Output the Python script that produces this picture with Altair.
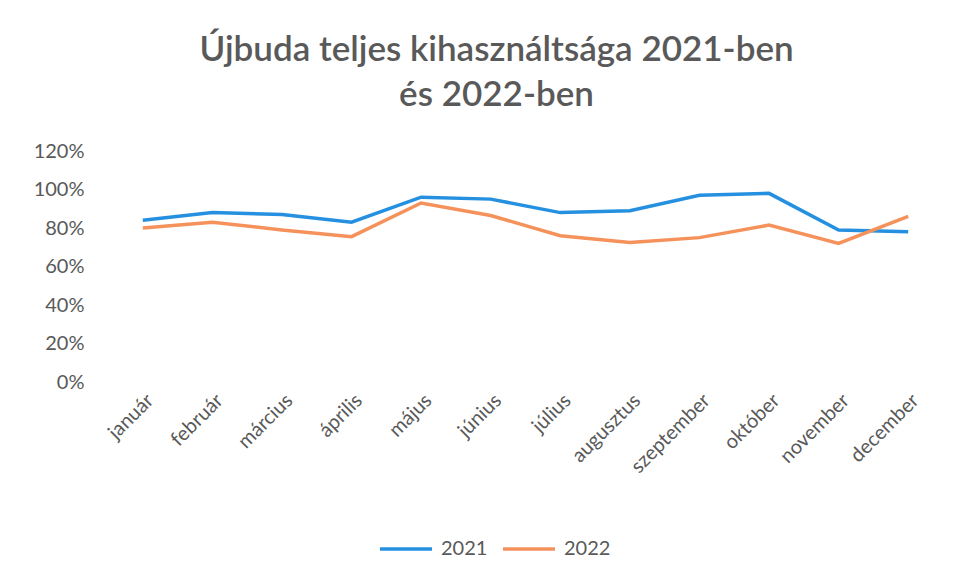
import altair as alt
import pandas as pd

months = ["január", "február", "március", "április", "május", "június",
          "július", "augusztus", "szeptember", "október", "november", "december"]
v2021 = [0.84, 0.88, 0.87, 0.83, 0.96, 0.95, 0.88, 0.89, 0.97, 0.98, 0.79, 0.78]
v2022 = [0.80, 0.83, 0.79, 0.755, 0.93, 0.865, 0.76, 0.725, 0.75, 0.815, 0.72, 0.86]
series = ["2021", "2022"]
colors = ["#2690E0", "#F5925C"]
y_ticks = [0, 0.2, 0.4, 0.6, 0.8, 1.0, 1.2]

rows = []
for m, a, b in zip(months, v2021, v2022):
    rows.append({"hónap": m, "év": series[0], "érték": a})
    rows.append({"hónap": m, "év": series[1], "érték": b})
df = pd.DataFrame(rows)

FONT = "Lato"
GREY = "#595959"

chart = alt.Chart(df).mark_line(strokeWidth=3.5).encode(
    x=alt.X("hónap:N", sort=months, title=None,
            scale=alt.Scale(paddingInner=0, paddingOuter=0),
            axis=alt.Axis(labelAngle=-45, labelAlign="right", labelBaseline="top",
                          labelFontSize=20, labelColor=GREY, labelFont=FONT,
                          ticks=False, domain=False, labelPadding=8)),
    y=alt.Y("érték:Q", title=None,
            scale=alt.Scale(domain=[0, 1.2]),
            axis=alt.Axis(values=y_ticks, format=".0%", labelFontSize=20,
                          labelColor=GREY, labelFont=FONT, ticks=False,
                          domain=False, grid=False, labelPadding=24)),
    color=alt.Color("év:N", scale=alt.Scale(domain=series, range=colors),
                    legend=alt.Legend(title=None, orient="none", direction="horizontal",
                                      legendX=270, legendY=370,
                                      symbolType="stroke", symbolStrokeWidth=3.5,
                                      symbolSize=2704, labelFontSize=20,
                                      labelColor=GREY, labelFont=FONT,
                                      labelOffset=7, columnPadding=8)),
).properties(
    width=835, height=231,
    padding={"left": 100, "top": 143, "right": 9, "bottom": 187},
    autosize=alt.AutoSizeParams(type="none"),
    title=alt.TitleParams(["Újbuda teljes kihasználtsága 2021-ben", "és 2022-ben"],
                          font=FONT, fontSize=35, fontWeight=600, color=GREY,
                          anchor="middle", lineHeight=45, offset=28, dx=-29),
).configure_view(stroke=None)

chart.save("out.html", embed_options={"renderer": "svg", "actions": False})
